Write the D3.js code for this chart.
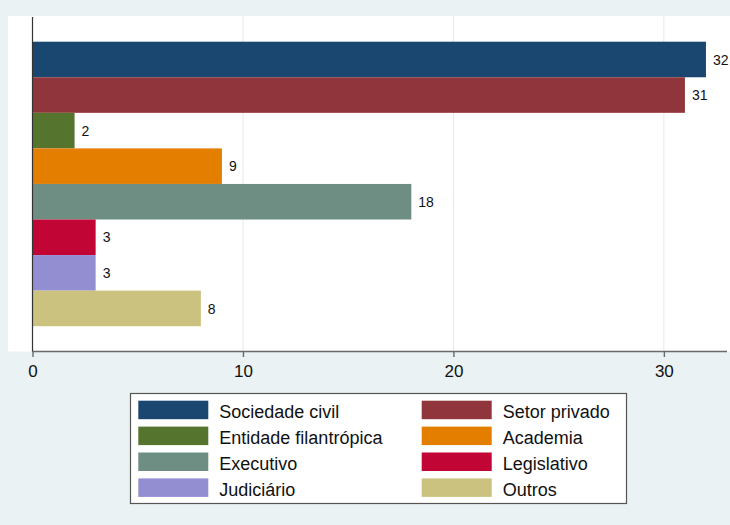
<!DOCTYPE html>
<html>
<head>
<meta charset="utf-8">
<script src="https://cdn.jsdelivr.net/npm/d3@7"></script>
<style>
  html, body { margin: 0; padding: 0; background: #eaf2f3; }
  svg { display: block; font-family: "Liberation Sans", Arial, Helvetica, sans-serif; }
</style>
</head>
<body>
<svg id="chart" width="730" height="525"></svg>
<script>
const categories = ["Sociedade civil", "Setor privado", "Entidade filantrópica", "Academia",
                    "Executivo", "Legislativo", "Judiciário", "Outros"];
const values = [32, 31, 2, 9, 18, 3, 3, 8];
const colors = ["#1a476f", "#90353b", "#55752f", "#e37e00",
                "#6e8e84", "#c10534", "#938dd2", "#cac27e"];
const tickValues = [0, 10, 20, 30];

const svg = d3.select("#chart");

// background
svg.append("rect").attr("x", 0).attr("y", 0).attr("width", 730).attr("height", 525).attr("fill", "#eaf2f3");

// plot region
const plot = { left: 8, top: 16, right: 730, bottom: 351.5 };
svg.append("rect")
  .attr("x", plot.left).attr("y", plot.top)
  .attr("width", plot.right - plot.left).attr("height", plot.bottom - plot.top)
  .attr("fill", "#ffffff");

const x = d3.scaleLinear().domain([0, 33]).range([32.5, 727]);
const y = d3.scaleBand().domain(categories).range([41.7, 326.2]).padding(0);

// gridlines
svg.append("g").selectAll("line")
  .data(tickValues.filter(d => d > 0))
  .join("line")
  .attr("x1", d => x(d)).attr("x2", d => x(d))
  .attr("y1", plot.top).attr("y2", plot.bottom)
  .attr("stroke", "#e3e9eb").attr("stroke-width", 1);

// bars
svg.append("g").selectAll("rect")
  .data(values)
  .join("rect")
  .attr("x", x(0))
  .attr("y", (d, i) => y(categories[i]))
  .attr("width", d => x(d) - x(0))
  .attr("height", y.bandwidth())
  .attr("fill", (d, i) => colors[i]);

// bar labels
svg.append("g").selectAll("text")
  .data(values)
  .join("text")
  .attr("x", d => x(d) + 7)
  .attr("y", (d, i) => y(categories[i]) + y.bandwidth() / 2 + 5.2)
  .attr("font-size", "14px")
  .attr("fill", "#111")
  .text(d => d);

// x axis
const xAxis = d3.axisBottom(x).tickValues(tickValues).tickSize(5.5).tickPadding(8).tickFormat(d3.format("d"));
const gx = svg.append("g").attr("transform", `translate(0,${plot.bottom})`).call(xAxis);
gx.select(".domain").attr("stroke", "#6a6a6a").attr("stroke-width", 1.6)
  .attr("d", `M${x(0)},0H${x.range()[1]}`);
gx.selectAll(".tick line").attr("stroke", "#6a6a6a").attr("stroke-width", 1.4);
gx.selectAll(".tick text").attr("font-size", "17px").attr("fill", "#111")
  .attr("font-family", "'Liberation Sans', Arial, sans-serif");

// y axis line
svg.append("line")
  .attr("x1", x(0)).attr("x2", x(0))
  .attr("y1", 17).attr("y2", plot.bottom)
  .attr("stroke", "#333").attr("stroke-width", 1.2);

// legend
const legend = svg.append("g");
legend.append("rect")
  .attr("x", 130.5).attr("y", 393.5).attr("width", 496).attr("height", 110)
  .attr("fill", "#ffffff").attr("stroke", "#555").attr("stroke-width", 1.2);

const colX = [138.3, 421.7];
const rowY0 = 400.7, rowStep = 25.9;
const items = legend.selectAll("g.item")
  .data(categories)
  .join("g")
  .attr("class", "item")
  .attr("transform", (d, i) => `translate(${colX[i % 2]},${rowY0 + Math.floor(i / 2) * rowStep})`);
items.append("rect")
  .attr("x", 0).attr("y", 0).attr("width", 70).attr("height", 18.5)
  .attr("fill", (d, i) => colors[i]);
items.append("text")
  .attr("x", 81).attr("y", 17.4)
  .attr("font-size", "18px")
  .attr("fill", "#111")
  .text(d => d);
</script>
</body>
</html>
